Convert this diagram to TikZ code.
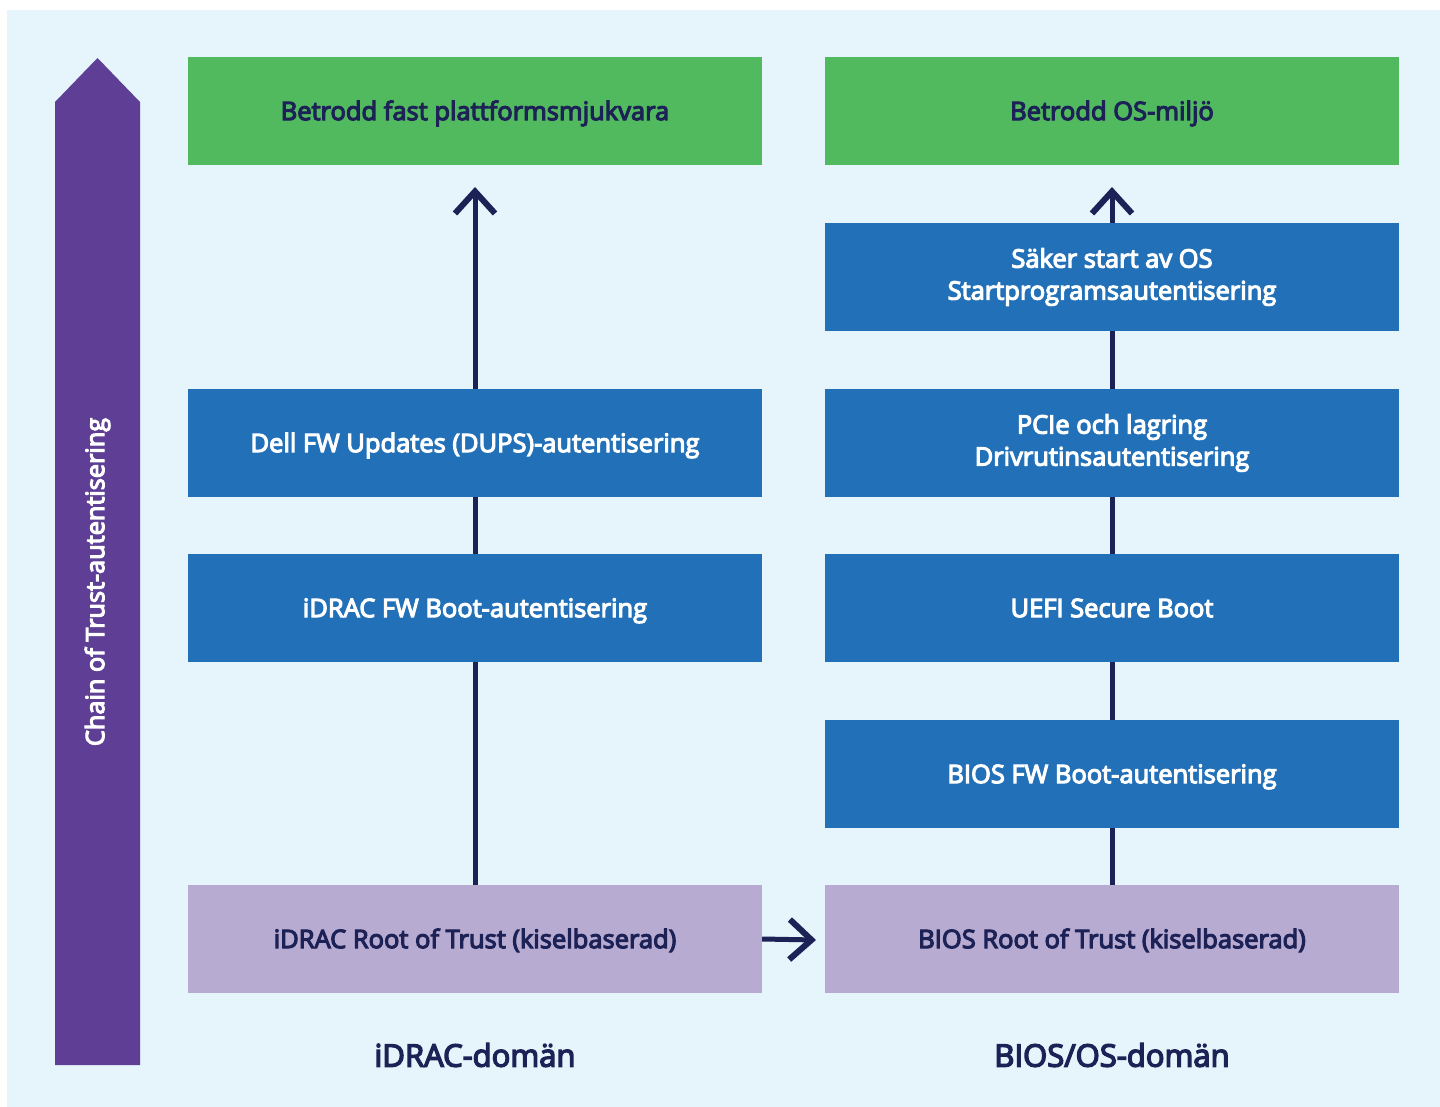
\documentclass[tikz,border=0pt]{standalone}
\usepackage{fontspec}
\setmainfont{Open Sans}
\newfontfamily\medfont{Open Sans}[FakeBold=4.5]
\usetikzlibrary{arrows.meta}
\definecolor{bgc}{HTML}{E6F5FC}
\definecolor{grn}{HTML}{52BA5E}
\definecolor{blu}{HTML}{2170B8}
\definecolor{lav}{HTML}{B7ABD1}
\definecolor{pur}{HTML}{5E3F95}
\definecolor{nav}{HTML}{1C2156}
\tikzset{
  box/.style={minimum width=574pt,minimum height=108pt,inner sep=0pt,align=center,font=\medfont\fontsize{25.5}{32}\selectfont},
  onel/.style={text height=18.2pt,text depth=0pt},
  greenbox/.style={box,onel,fill=grn,text=nav},
  bluebox/.style={box,fill=blu,text=white},
  lavbox/.style={box,onel,fill=lav,text=nav},
  conn/.style={draw=nav,line width=5pt},
  arr/.style={conn,-{Straight Barb[length=22pt,width=40pt,line width=6pt]}},
  domlabel/.style={text=nav,font=\medfont\fontsize{31}{36}\selectfont}
}
\begin{document}
\begin{tikzpicture}[x=1pt,y=-1pt]
\useasboundingbox (0,0) rectangle (1440,1107);
\fill[bgc] (7,10) rectangle (1440,1107);
% purple arrow
\fill[pur] (55,1065) -- (55,102) -- (97.5,58) -- (140,102) -- (140,1065) -- cycle;
\node[rotate=90,text=white,font=\medfont\fontsize{25.3}{30}\selectfont] (chain) at (97.5,582) {Chain of Trust-autentisering};
% coordinates for arrow tips
\coordinate (ltip) at (475,187);
\coordinate (rtip) at (1112,187);
\coordinate (lroot) at (475,939);
\coordinate (rroot) at (1112,939);
\draw[arr] (lroot) -- (ltip);
\draw[arr] (rroot) -- (rtip);
% left column
\node[greenbox] (l1) at (475,111) {Betrodd fast plattformsmjukvara};
\node[bluebox,onel] (l2) at (475,443) {Dell FW Updates (DUPS)-autentisering};
\node[bluebox,onel] (l3) at (475,608) {iDRAC FW Boot-autentisering};
\node[lavbox] (l4) at (475,939) {iDRAC Root of Trust (kiselbaserad)};
% right column
\node[greenbox] (r1) at (1112,111) {Betrodd OS-miljö};
\node[bluebox] (r2) at (1112,277) {Säker start av OS\\Startprogramsautentisering};
\node[bluebox] (r3) at (1112,443) {PCIe och lagring\\Drivrutinsautentisering};
\node[bluebox,onel] (r4) at (1112,608) {UEFI Secure Boot};
\node[bluebox,onel] (r5) at (1112,774) {BIOS FW Boot-autentisering};
\node[lavbox] (r6) at (1112,939) {BIOS Root of Trust (kiselbaserad)};
\coordinate (htip) at (816,940);
\draw[arr] (l4.east) -- (htip);
% domain labels
\node[domlabel] (d1) at (475,1055) {iDRAC-domän};
\node[domlabel] (d2) at (1112,1055) {BIOS/OS-domän};
\end{tikzpicture}
\end{document}
